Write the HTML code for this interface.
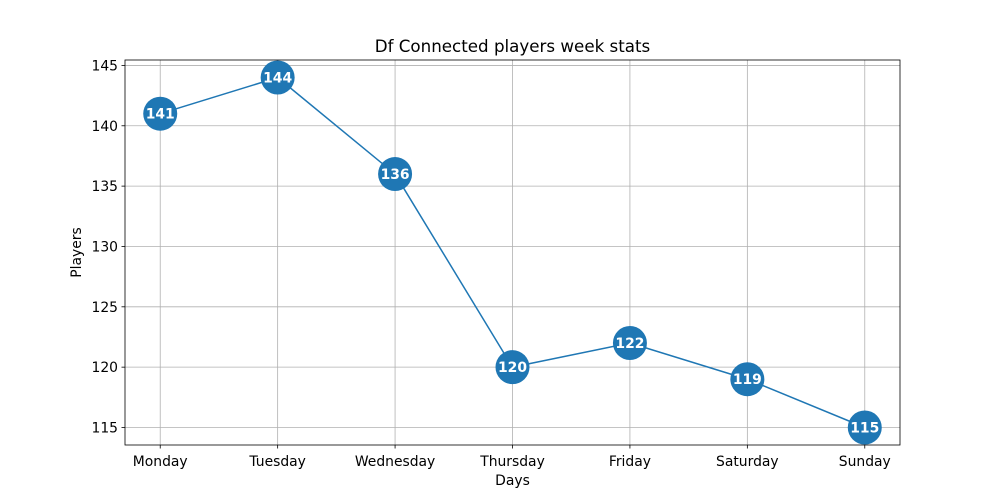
<!DOCTYPE html>
<html><head><meta charset="utf-8"><style>
body{margin:0;background:#fff;font-family:"DejaVu Sans","Liberation Sans",sans-serif;}
</style></head><body>
<svg id="chart" width="1000" height="500" xmlns="http://www.w3.org/2000/svg" font-family="DejaVu Sans, Liberation Sans, sans-serif"></svg>
<script>
const categories=["Monday","Tuesday","Wednesday","Thursday","Friday","Saturday","Sunday"];
const players=[141,144,136,120,122,119,115];
const yTicks=[115,120,125,130,135,140,145];
const L=125,R=900,T=60,B=445;
const ymin=113.55,ymax=145.45,xmin=-0.3,xmax=6.3;
const xs=i=>L+(i-xmin)/(xmax-xmin)*(R-L);
const ys=v=>B-(v-ymin)/(ymax-ymin)*(B-T);
const svg=document.getElementById('chart');
const NS="http://www.w3.org/2000/svg";
function mk(tag,attrs,parent){const e=document.createElementNS(NS,tag);for(const k in attrs)e.setAttribute(k,attrs[k]);(parent||svg).appendChild(e);return e;}
const grid=mk('g',{});


categories.forEach((c,i)=>{
  const x=xs(i);
  const gl=mk('line',{x1:x,x2:x,y1:T,y2:B,stroke:'#b0b0b0','stroke-width':0.8},grid);
  
  
  mk('line',{x1:x,x2:x,y1:B,y2:B+3.5,stroke:'#000','stroke-width':0.8});
  const t=mk('text',{x:x,y:B+21,'text-anchor':'middle','font-size':13.9});
  t.textContent=c;
  
  
});
yTicks.forEach(v=>{
  const y=ys(v);
  const gl=mk('line',{x1:L,x2:R,y1:y,y2:y,stroke:'#b0b0b0','stroke-width':0.8},grid);
  
  
  mk('line',{x1:L-3.5,x2:L,y1:y,y2:y,stroke:'#000','stroke-width':0.8});
  const t=mk('text',{x:L-7,y:y+5,'text-anchor':'end','font-size':13.9});
  t.textContent=v;
  
  
});
const pts=players.map((v,i)=>xs(i)+','+ys(v)).join(' ');
const line=mk('polyline',{points:pts,fill:'none',stroke:'#1f77b4','stroke-width':1.5});


players.forEach((v,i)=>{
  const c=mk('circle',{cx:xs(i),cy:ys(v),r:17,fill:'#1f77b4'});
  
  
  const t=mk('text',{x:xs(i),y:ys(v)+5,'text-anchor':'middle','font-size':13.9,'font-weight':'bold',fill:'#fff'});
  t.textContent=v;
  
  
});
const frame=mk('rect',{x:L,y:T,width:R-L,height:B-T,fill:'none',stroke:'#000','stroke-width':0.8});


const title=mk('text',{x:(L+R)/2,y:T-8,'text-anchor':'middle','font-size':16.7});
title.textContent='Df Connected players week stats';


const xt=mk('text',{x:(L+R)/2,y:B+40,'text-anchor':'middle','font-size':13.9});
xt.textContent='Days';


const yt=mk('text',{x:81,y:(T+B)/2,'text-anchor':'middle','font-size':13.9,transform:`rotate(-90 81 ${(T+B)/2})`});
yt.textContent='Players';


</script>
</body></html>
